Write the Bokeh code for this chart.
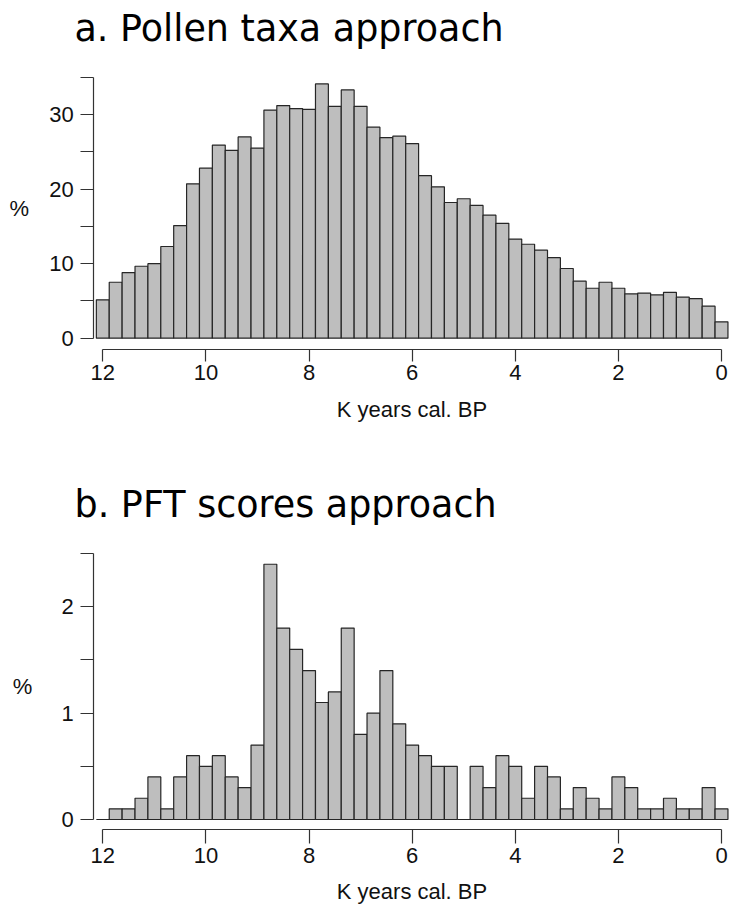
from bokeh.plotting import figure
from bokeh.models import Range1d, FixedTicker, LinearAxis, Label
from bokeh.layouts import column
from bokeh.embed import file_html
from bokeh.resources import INLINE

# Bin centres (K years cal. BP), bin width 0.25 K
bin_centers = [12.0, 11.75, 11.5, 11.25, 11.0, 10.75, 10.5, 10.25, 10.0, 9.75,
               9.5, 9.25, 9.0, 8.75, 8.5, 8.25, 8.0, 7.75, 7.5, 7.25,
               7.0, 6.75, 6.5, 6.25, 6.0, 5.75, 5.5, 5.25, 5.0, 4.75,
               4.5, 4.25, 4.0, 3.75, 3.5, 3.25, 3.0, 2.75, 2.5, 2.25,
               2.0, 1.75, 1.5, 1.25, 1.0, 0.75, 0.5, 0.25, 0.0]
bin_width = 0.25

pollen_pct = [5.15, 7.5, 8.8, 9.65, 10.0, 12.3, 15.1, 20.7, 22.8, 25.9,
              25.2, 27.0, 25.5, 30.6, 31.2, 30.8, 30.7, 34.1, 31.1, 33.3,
              31.1, 28.3, 26.9, 27.1, 26.1, 21.8, 20.3, 18.2, 18.7, 17.8,
              16.5, 15.4, 13.3, 12.6, 11.8, 10.8, 9.35, 7.65, 6.7, 7.5,
              6.7, 5.95, 6.05, 5.8, 6.15, 5.5, 5.3, 4.3, 2.2]

pft_pct = [0.0, 0.1, 0.1, 0.2, 0.4, 0.1, 0.4, 0.6, 0.5, 0.6,
           0.4, 0.3, 0.7, 2.4, 1.8, 1.6, 1.4, 1.1, 1.2, 1.8,
           0.8, 1.0, 1.4, 0.9, 0.7, 0.6, 0.5, 0.5, 0.0, 0.5,
           0.3, 0.6, 0.5, 0.2, 0.5, 0.4, 0.1, 0.3, 0.2, 0.1,
           0.4, 0.3, 0.1, 0.1, 0.2, 0.1, 0.1, 0.3, 0.1]

x_ticks = [0, 2, 4, 6, 8, 10, 12]
top_y_major = [0, 10, 20, 30]
top_y_minor = [5, 15, 25, 35]
bot_y_major = [0, 1, 2]
bot_y_minor = [0.5, 1.5, 2.5]

titles = ["a. Pollen taxa approach", "b. PFT scores approach"]
x_label = "K years cal. BP"
y_label = "%"

BAR_FILL = "#bebebe"
BAR_LINE = "#262626"
AXIS_COL = "#333333"
TXT_COL = "#111111"
TICK_FONT = "Liberation Sans"
SMALL = "22px"

X_RANGE = (13.984, -0.155)   # frame spans the whole figure width
Y_AXIS_AT = 12.175           # x position (data) of the detached y axis


def make_panel(values, height, yr, x_axis_at, ymaj, ymin, ybounds,
               title, title_y, pct_standoff, xtick_out, xlabel_standoff):
    p = figure(width=729, height=height, output_backend="svg", toolbar_location=None,
               x_range=Range1d(*X_RANGE), y_range=Range1d(*yr),
               x_axis_location=None, y_axis_location=None,
               min_border_left=0, min_border_right=0,
               min_border_top=0, min_border_bottom=0)
    p.outline_line_color = None
    p.background_fill_color = "white"
    p.border_fill_color = "white"
    p.grid.visible = False
    p.xgrid.visible = False
    p.ygrid.visible = False

    p.vbar(x=bin_centers, top=values, bottom=0, width=bin_width,
           fill_color=BAR_FILL, line_color=BAR_LINE, line_width=1.2)

    xa = LinearAxis(fixed_location=x_axis_at)
    xa.ticker = FixedTicker(ticks=x_ticks)
    xa.bounds = (0, 12)
    xa.major_tick_out = xtick_out
    xa.major_tick_in = 0
    xa.minor_tick_out = 0
    xa.minor_tick_in = 0
    xa.axis_line_color = AXIS_COL
    xa.major_tick_line_color = AXIS_COL
    xa.axis_line_width = 1.2
    xa.major_tick_line_width = 1.2
    xa.major_label_text_font = TICK_FONT
    xa.major_label_text_font_size = SMALL
    xa.major_label_text_color = TXT_COL
    xa.major_label_standoff = 4
    xa.axis_label = x_label
    xa.axis_label_text_font = TICK_FONT
    xa.axis_label_text_font_size = SMALL
    xa.axis_label_text_font_style = "normal"
    xa.axis_label_text_color = TXT_COL
    xa.axis_label_standoff = xlabel_standoff
    p.add_layout(xa, "below")

    ya = LinearAxis(fixed_location=Y_AXIS_AT)
    ya.ticker = FixedTicker(ticks=ymaj, minor_ticks=ymin)
    ya.bounds = ybounds
    ya.major_tick_out = 13
    ya.major_tick_in = 0
    ya.minor_tick_out = 13
    ya.minor_tick_in = 0
    ya.axis_line_color = AXIS_COL
    ya.major_tick_line_color = AXIS_COL
    ya.minor_tick_line_color = AXIS_COL
    ya.axis_line_width = 1.2
    ya.major_tick_line_width = 1.2
    ya.minor_tick_line_width = 1.2
    ya.major_label_text_font = TICK_FONT
    ya.major_label_text_font_size = SMALL
    ya.major_label_text_color = TXT_COL
    ya.major_label_standoff = 7
    ya.axis_label = y_label
    ya.axis_label_orientation = "horizontal"
    ya.axis_label_text_font = TICK_FONT
    ya.axis_label_text_font_size = SMALL
    ya.axis_label_text_font_style = "normal"
    ya.axis_label_text_color = TXT_COL
    ya.axis_label_standoff = pct_standoff
    p.add_layout(ya, "left")

    p.add_layout(Label(x=74, y=title_y, x_units="screen", y_units="screen", text=title,
                       text_font="DejaVu Sans", text_font_size="36.5px",
                       text_color="black", text_align="left",
                       text_baseline="alphabetic"))
    return p


top = make_panel(pollen_pct, 452, (-15.33, 45.29), -1.515,
                 top_y_major, top_y_minor, (0, 35), titles[0], 424.5, 17, 12, 13)
bottom = make_panel(pft_pct, 453, (-0.8087, 3.451), -0.0968,
                    bot_y_major, bot_y_minor, (0, 2.5), titles[1], 401, 26, 14, 13)

layout = column(top, bottom, spacing=0)
open("out.html", "w").write(file_html(layout, INLINE))
